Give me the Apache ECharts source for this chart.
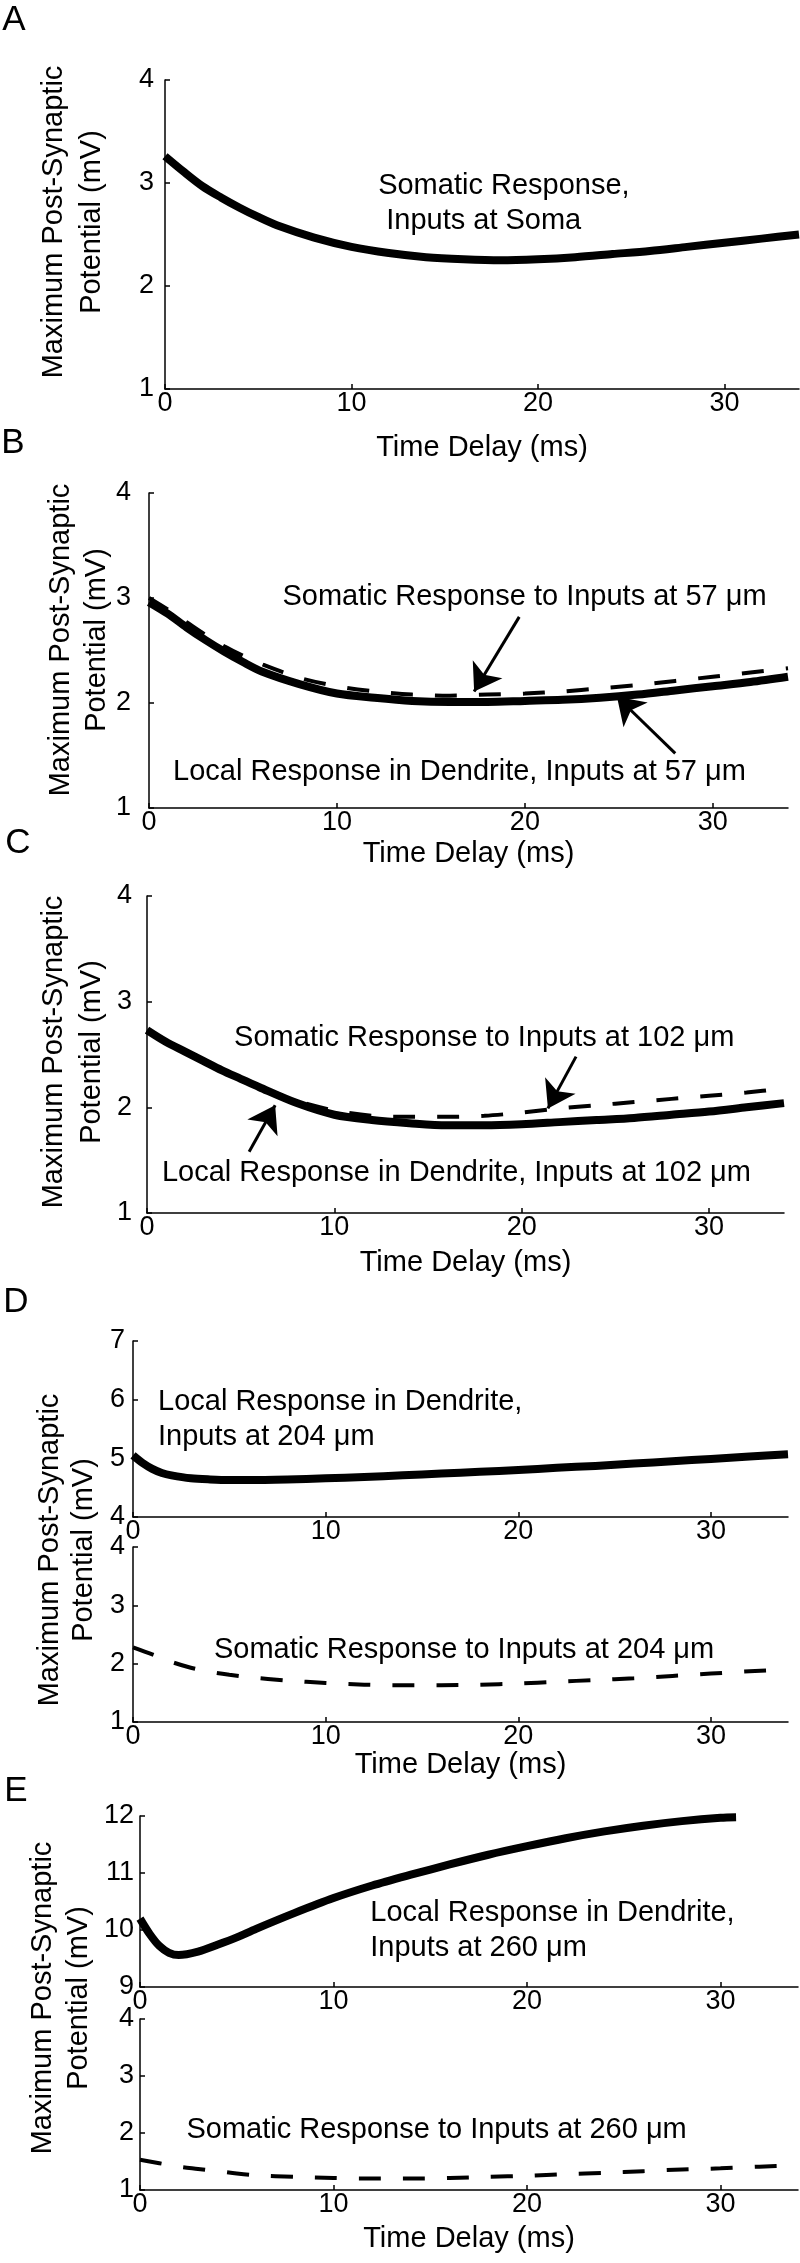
<!DOCTYPE html>
<html><head><meta charset="utf-8">
<script src="https://cdn.jsdelivr.net/npm/echarts@6/dist/echarts.min.js"></script>
<style>html,body{margin:0;padding:0;background:#fff}#c{width:800px;height:2263px}</style>
</head><body><div id="c"></div>
<script>
// ---------- data ----------
const xTicks = [0, 10, 20, 30];
const xStd = [0,1,2,3,4,5,6,8,10,12,14,16,18,20,22,24,26,28,30,32,34];
const somaA  = [3.26,3.11,2.97,2.86,2.76,2.67,2.59,2.47,2.38,2.32,2.28,2.26,2.25,2.26,2.28,2.31,2.34,2.38,2.42,2.46,2.50];
const localB = [2.96,2.85,2.72,2.60,2.49,2.39,2.30,2.18,2.09,2.05,2.02,2.01,2.01,2.02,2.03,2.05,2.08,2.12,2.16,2.20,2.25];
const somaB  = [3.00,2.89,2.77,2.65,2.54,2.45,2.37,2.24,2.16,2.11,2.08,2.07,2.08,2.09,2.11,2.14,2.17,2.21,2.25,2.29,2.33];
const localC = [2.73,2.62,2.53,2.44,2.35,2.27,2.19,2.04,1.93,1.88,1.85,1.83,1.83,1.84,1.86,1.88,1.90,1.93,1.96,2.00,2.04];
const somaC  = [2.73,2.62,2.53,2.44,2.35,2.27,2.19,2.06,1.97,1.92,1.91,1.91,1.92,1.95,1.99,2.02,2.05,2.08,2.11,2.14,2.18];
const xD = [0,0.5,1,1.5,2,3,4,5,6,8,10,12,14,16,18,20,22,24,26,28,30,32,34];
const localD = [5.05,4.92,4.82,4.75,4.71,4.66,4.64,4.63,4.63,4.64,4.66,4.68,4.71,4.74,4.77,4.80,4.84,4.87,4.91,4.95,4.99,5.03,5.07];
const somaD  = [2.28,2.16,2.03,1.93,1.86,1.81,1.77,1.71,1.67,1.64,1.63,1.63,1.64,1.66,1.69,1.72,1.75,1.79,1.83,1.87,1.90];
const xE = [0,0.5,1,1.5,2,3,4,5,6,8,10,12,14,16,18,20,22,24,26,28,30,30.8];
const localE = [10.2,9.93,9.72,9.60,9.56,9.62,9.74,9.87,10.02,10.30,10.56,10.78,10.97,11.15,11.32,11.47,11.61,11.73,11.83,11.91,11.97,11.98];
const somaE  = [1.53,1.47,1.41,1.37,1.33,1.29,1.26,1.23,1.21,1.20,1.20,1.21,1.23,1.25,1.28,1.30,1.33,1.36,1.38,1.41,1.43];

// annotation texts and their data-space anchors (left edge, vertical middle)
const notesA  = [['Somatic Response,\n Inputs at Soma', 11.43, 2.80]];
const notesB  = [['Somatic Response to Inputs at 57 \u03bcm', 7.1, 3.01], ['Local Response in Dendrite, Inputs at 57 \u03bcm', 1.28, 1.34]];
const notesC  = [['Somatic Response to Inputs at 102 \u03bcm', 4.65, 2.66], ['Local Response in Dendrite, Inputs at 102 \u03bcm', 0.8, 1.38]];
const notesDt = [['Local Response in Dendrite,\nInputs at 204 \u03bcm', 1.3, 5.66]];
const notesDb = [['Somatic Response to Inputs at 204 \u03bcm', 4.2, 2.23]];
const notesEt = [['Local Response in Dendrite,\nInputs at 260 \u03bcm', 11.9, 10.0]];
const notesEb = [['Somatic Response to Inputs at 260 \u03bcm', 2.4, 2.05]];
// arrows: [fromX, fromY, toX, toY] in data space
const arrowsB = [[19.7, 2.82, 17.3, 2.11], [28.0, 1.52, 24.9, 2.06]];
const arrowsC = [[22.9, 2.48, 21.4, 1.99], [5.45, 1.58, 6.84, 2.02]];

// ---------- layout ----------
const FONT = "'Liberation Sans', Arial, Helvetica, sans-serif";
const panels = [
  {grid:{left:165, top:80,   width:634, height:309}, y:[1,4],  labelMargin:11, xName:44},
  {grid:{left:149, top:493,  width:639, height:315}, y:[1,4],  labelMargin:18, xName:31},
  {grid:{left:147, top:896,  width:637, height:317}, y:[1,4],  labelMargin:15, xName:35},
  {grid:{left:133, top:1341, width:655, height:176}, y:[4,7],  labelMargin:8,  xName:null},
  {grid:{left:133, top:1547, width:655, height:175}, y:[1,4],  labelMargin:8,  xName:26},
  {grid:{left:140, top:1816, width:658, height:171}, y:[9,12], labelMargin:6,  xName:null},
  {grid:{left:140, top:2019, width:658, height:171}, y:[1,4],  labelMargin:6,  xName:34}
];

const axisLine = {show:true, onZero:false, lineStyle:{color:'#000', width:1.5}};
const axisTick = {show:true, inside:true, length:5, lineStyle:{color:'#000', width:1.5}};

const xAxes = panels.map((p, i) => ({
  type:'value', gridIndex:i, min:0, max:34,
  axisLine, splitLine:{show:false},
  axisTick:Object.assign({customValues:xTicks}, axisTick),
  axisLabel:{customValues:xTicks, color:'#000', fontSize:27, fontFamily:FONT, margin:1},
  name: p.xName === null ? '' : 'Time Delay (ms)',
  nameLocation:'middle', nameGap: p.xName || 0,
  nameTextStyle:{color:'#000', fontSize:29, fontFamily:FONT}
}));
const yAxes = panels.map((p, i) => ({
  type:'value', gridIndex:i, min:p.y[0], max:p.y[1], interval:1,
  axisLine, axisTick, splitLine:{show:false},
  axisLabel:{color:'#000', fontSize:27, fontFamily:FONT, margin:p.labelMargin}
}));

function pairs(xs, ys){ return ys.map((v, k) => [xs[k], v]); }
function notes(list){
  return {
    symbol:'circle', symbolSize:0, silent:true, animation:false,
    label:{show:true, position:'inside', align:'left', verticalAlign:'middle',
           color:'#000', fontSize:29, fontFamily:FONT, lineHeight:35, formatter:(q)=>q.name},
    data:list.map(n => ({name:n[0], coord:[n[1], n[2]]}))
  };
}
function arrows(list){
  return {
    silent:true, animation:false, symbol:['none','arrow'], symbolSize:26,
    lineStyle:{color:'#000', width:3, type:'solid', opacity:1},
    label:{show:false}, emphasis:{disabled:true},
    data:list.map(a => [{coord:[a[0], a[1]]}, {coord:[a[2], a[3]]}])
  };
}
function solid(i, xs, ys, extra){
  return Object.assign({type:'line', xAxisIndex:i, yAxisIndex:i, data:pairs(xs, ys),
    showSymbol:false, symbol:'none', smooth:0.3, silent:true, animation:false, z:2,
    lineStyle:{color:'#000', width:8, cap:'butt', join:'round'}}, extra || {});
}
function dashed(i, xs, ys, extra){
  return Object.assign({type:'line', xAxisIndex:i, yAxisIndex:i, data:pairs(xs, ys),
    showSymbol:false, symbol:'none', smooth:0.3, silent:true, animation:false, z:3,
    lineStyle:{color:'#000', width:4, type:[22, 22], cap:'butt'}}, extra || {});
}

const series = [
  solid(0, xStd, somaA, {markPoint:notes(notesA)}),
  solid(1, xStd, localB, {markPoint:notes(notesB)}),
  dashed(1, xStd, somaB, {markLine:arrows(arrowsB)}),
  solid(2, xStd, localC, {markPoint:notes(notesC)}),
  dashed(2, xStd, somaC, {markLine:arrows(arrowsC)}),
  solid(3, xD, localD, {markPoint:notes(notesDt)}),
  dashed(4, xStd, somaD, {markPoint:notes(notesDb)}),
  solid(5, xE, localE, {markPoint:notes(notesEt)}),
  dashed(6, xStd, somaE, {markPoint:notes(notesEb)})
];

const yName = 'Maximum Post-Synaptic\nPotential (mV)';
const letters = [['A',14,20],['B',13,443],['C',18,843],['D',16,1302],['E',16,1791]];
const yNames = [[73,222,38],[79,640,36],[73,1052,38],[67,1550,34],[61,1998,36]];
const graphic = letters.map(l => ({type:'text', x:l[1], y:l[2], silent:true,
    style:{text:l[0], fontSize:35, fontFamily:FONT, fill:'#000', align:'center', verticalAlign:'middle'}}))
  .concat(yNames.map(n => ({type:'text', x:n[0], y:n[1], rotation:Math.PI/2, silent:true,
    style:{text:yName, fontSize:29, fontFamily:FONT, fill:'#000', align:'center', verticalAlign:'middle', lineHeight:n[2]}})));

const chart = echarts.init(document.getElementById('c'), null, {renderer:'canvas'});
chart.setOption({
  animation:false, backgroundColor:'#fff',
  textStyle:{fontFamily:FONT},
  grid:panels.map(p => Object.assign({containLabel:false}, p.grid)),
  xAxis:xAxes, yAxis:yAxes, series, graphic
});
</script></body></html>
